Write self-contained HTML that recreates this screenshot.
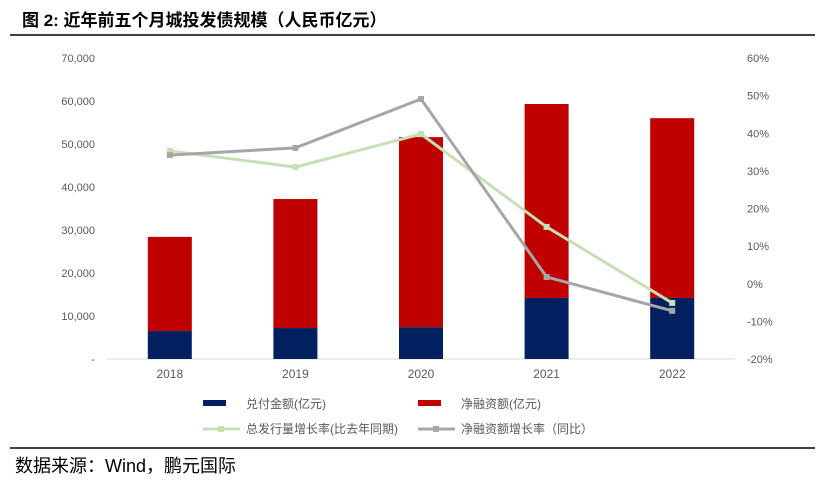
<!DOCTYPE html>
<html><head><meta charset="utf-8"><style>
body{margin:0;background:#fff;width:825px;height:491px;overflow:hidden;font-family:"Liberation Sans","Noto Sans CJK SC",sans-serif}
</style></head><body>
<svg width="825" height="491" style="position:absolute;left:0;top:0">
<text x="22" y="26" font-size="17" font-weight="bold" fill="#000">图 2: 近年前五个月城投发债规模（人民币亿元）</text>
<line x1="10" y1="35" x2="815" y2="35" stroke="#000" stroke-width="1.5"/>
<g id="plot"></g>
<g font-size="12" fill="#595959">
<rect x="203" y="400" width="23" height="6" fill="#002060"/>
<text x="246" y="408">兑付金额(亿元)</text>
<rect x="418" y="400" width="23" height="6" fill="#c00000"/>
<text x="461" y="408">净融资额(亿元)</text>
<line x1="203" y1="429" x2="240" y2="429" stroke="#c6e0b4" stroke-width="3"/><rect x="218" y="426" width="6" height="6" fill="#c6e0b4"/>
<text x="246" y="433">总发行量增长率(比去年同期)</text>
<line x1="418" y1="429" x2="455" y2="429" stroke="#a6a6a6" stroke-width="3"/><rect x="433" y="426" width="6" height="6" fill="#a6a6a6"/>
<text x="461" y="433">净融资额增长率（同比）</text>
</g>
<line x1="10" y1="448" x2="815" y2="448" stroke="#000" stroke-width="1.5"/>
<text x="15" y="472" font-size="18" fill="#000">数据来源：Wind，鹏元国际</text>
</svg>
<script>
const categories=["2018","2019","2020","2021","2022"];
const redeem=[6500,7200,7400,14200,14200];
const netFinance=[21900,30000,44200,45100,41800];
const totalGrowth=[35.3,31.0,39.8,15.1,-5.1];
const netGrowth=[34.2,36.1,49.1,1.8,-7.2];
const leftTicks=[0,10000,20000,30000,40000,50000,60000,70000];
const rightTicks=[-20,-10,0,10,20,30,40,50,60];
const NS="http://www.w3.org/2000/svg";
const g=document.getElementById("plot");
const y0=359,yTop=58,x0=107,x1=735;
const yL=v=>y0-(v/70000)*(y0-yTop);
const yR=v=>y0-((v+20)/80)*(y0-yTop);
const bw=(x1-x0)/categories.length;
const xC=i=>x0+bw*(i+0.5);
function mk(t,a){const e=document.createElementNS(NS,t);for(const k in a)e.setAttribute(k,a[k]);g.appendChild(e);return e;}
let ax=mk("line",{x1:x0,y1:y0,x2:x1,y2:y0,stroke:"#d9d9d9"});


leftTicks.forEach(v=>{const t=mk("text",{x:95,y:yL(v)+4,"text-anchor":"end","font-size":"11",fill:"#595959"});t.textContent=v===0?"-":v.toLocaleString("en-US");

});
rightTicks.forEach(v=>{const t=mk("text",{x:747,y:yR(v)+4,"font-size":"11",fill:"#595959"});t.textContent=v+"%";

});
categories.forEach((c,i)=>{
const t=mk("text",{x:xC(i),y:y0+19,"text-anchor":"middle","font-size":"12",fill:"#595959"});t.textContent=c;


const r1=mk("rect",{x:xC(i)-22,y:yL(redeem[i]),width:44,height:y0-yL(redeem[i]),fill:"#002060"});


const tot=redeem[i]+netFinance[i];
const r2=mk("rect",{x:xC(i)-22,y:yL(tot),width:44,height:yL(redeem[i])-yL(tot),fill:"#c00000"});


});
function line(arr,col,name){
const p=mk("polyline",{points:arr.map((v,i)=>xC(i)+","+yR(v)).join(" "),fill:"none",stroke:col,"stroke-width":"3"});


arr.forEach((v,i)=>{const m=mk("rect",{x:xC(i)-3,y:yR(v)-3,width:6,height:6,fill:col});

});
}
line(totalGrowth,"#c6e0b4","line-total-growth");
line(netGrowth,"#a6a6a6","line-net-growth");
</script>
</body></html>
